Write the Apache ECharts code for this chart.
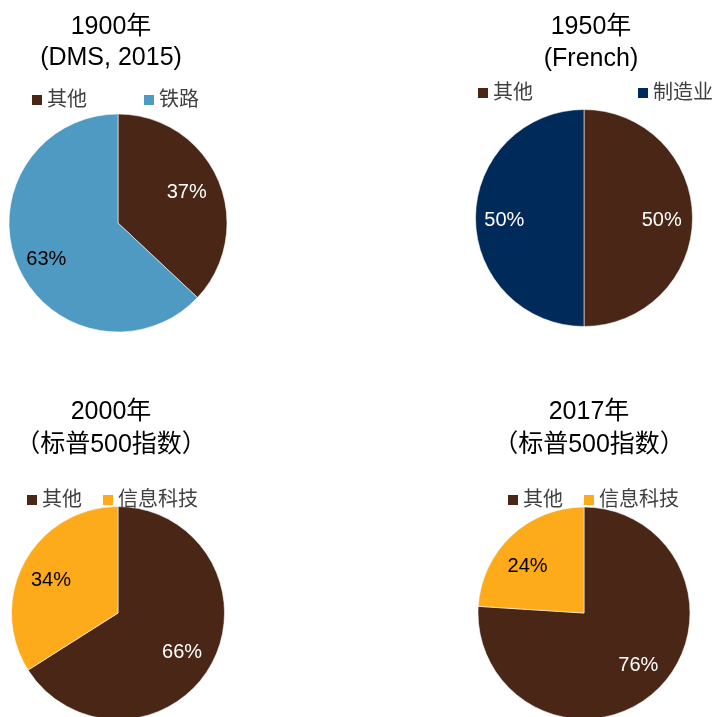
<!DOCTYPE html>
<html>
<head>
<meta charset="utf-8">
<script src="https://cdn.jsdelivr.net/npm/echarts@6/dist/echarts.min.js"></script>
<style>
  html, body { margin: 0; padding: 0; background: #ffffff; }
  #chart { width: 716px; height: 717px; }
</style>
</head>
<body>
<div id="chart"></div>
<script>
// Sector composition of the market at four points in time (percent of total)
const years = ['1900年', '1950年', '2000年', '2017年'];
const sources = ['(DMS, 2015)', '(French)', '（标普500指数）', '（标普500指数）'];

const names1900 = ['其他', '铁路'];
const shares1900 = [37, 63];

const names1950 = ['其他', '制造业'];
const shares1950 = [50, 50];

const names2000 = ['其他', '信息科技'];
const shares2000 = [66, 34];

const names2017 = ['其他', '信息科技'];
const shares2017 = [76, 24];

const panels = [
  { names: names1900, shares: shares1900 },
  { names: names1950, shares: shares1950 },
  { names: names2000, shares: shares2000 },
  { names: names2017, shares: shares2017 }
];

// Layout and styling of each panel
const BROWN = '#4A2616', BLUE = '#4E9AC2', NAVY = '#002A5A', ORANGE = '#FDAA1B';
const sliceColors = [[BROWN, BLUE], [BROWN, NAVY], [BROWN, ORANGE], [BROWN, ORANGE]];
const labelColors = [['#ffffff', '#000000'], ['#ffffff', '#ffffff'], ['#ffffff', '#000000'], ['#ffffff', '#000000']];
const centers = [[118, 223], [584, 218], [118, 613], [584, 613]];
const radii = [109, 108.5, 106.5, 106];
const titlePos = [[111, 27, 58], [591, 27, 59], [111, 412, 445], [589, 412, 445]];
const legendPos = [
  { left: 32, top: 90, itemGap: 57 },
  { left: 478, top: 83, itemGap: 105 },
  { left: 27, top: 490, itemGap: 21 },
  { left: 508, top: 490, itemGap: 21 }
];
// small per-label nudges (px) on top of the radial placement
const labelNudge = [[[-2, 0], [-1, 6]], [[1, 2], [-3, 2]], [[-2, 3], [-1, 4]], [[3, -2], [-5, 8]]];
const LATIN_CJK = '"Liberation Sans", Arial, "Noto Sans CJK SC", sans-serif';
// labels sit at about two thirds of the radius instead of half
const LABEL_PUSH = 0.34;

const chart = echarts.init(document.getElementById('chart'), null, { renderer: 'canvas' });

const graphics = [];
years.forEach(function (y, i) {
  graphics.push({
    type: 'text', x: titlePos[i][0], y: titlePos[i][1], silent: true,
    style: { text: y, fill: '#000', font: '25px ' + LATIN_CJK, textAlign: 'center', textVerticalAlign: 'middle' }
  });
  graphics.push({
    type: 'text', x: titlePos[i][0], y: titlePos[i][2], silent: true,
    style: { text: sources[i], fill: '#000', font: '25px ' + LATIN_CJK, textAlign: 'center', textVerticalAlign: 'middle' }
  });
});

const series = panels.map(function (p, i) {
  const c = centers[i];
  return {
    type: 'pie',
    center: c,
    radius: radii[i],
    startAngle: 90,
    clockwise: true,
    avoidLabelOverlap: false,
    silent: true,
    itemStyle: { borderColor: 'rgba(255,255,255,0.7)', borderWidth: 0.8 },
    label: {
      show: true,
      position: 'inside',
      fontSize: 20,
      fontFamily: LATIN_CJK,
      formatter: function (d) { return d.value + '%'; }
    },
    labelLine: { show: false },
    labelLayout: function (params) {
      const r = params.labelRect;
      const cx = r.x + r.width / 2, cy = r.y + r.height / 2;
      const n = labelNudge[i][params.dataIndex];
      return {
        x: cx + (cx - c[0]) * LABEL_PUSH + n[0],
        y: cy + (cy - c[1]) * LABEL_PUSH + n[1],
        align: 'center',
        verticalAlign: 'middle'
      };
    },
    data: p.names.map(function (n, j) {
      return {
        name: n,
        value: p.shares[j],
        itemStyle: { color: sliceColors[i][j] },
        label: { color: labelColors[i][j] }
      };
    })
  };
});

const legends = panels.map(function (p, i) {
  return {
    data: p.names,
    left: legendPos[i].left,
    top: legendPos[i].top,
    itemGap: legendPos[i].itemGap,
    orient: 'horizontal',
    padding: 0,
    icon: 'rect',
    itemWidth: 10,
    itemHeight: 10,
    itemStyle: { borderWidth: 0 },
    selectedMode: false,
    textStyle: { fontSize: 20, lineHeight: 20, color: '#404040', fontFamily: LATIN_CJK }
  };
});

chart.setOption({
  backgroundColor: '#ffffff',
  animation: false,
  legend: legends,
  series: series,
  graphic: graphics
});
</script>
</body>
</html>
